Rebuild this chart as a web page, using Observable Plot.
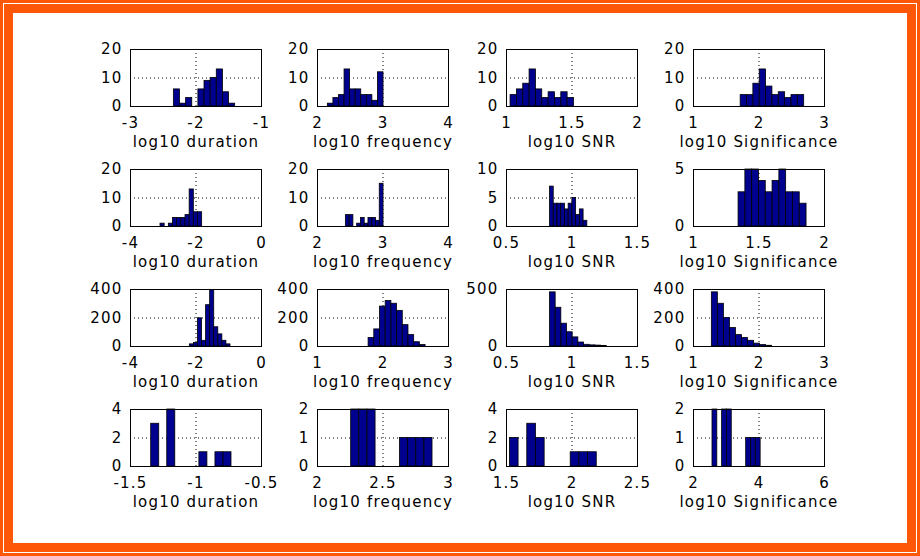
<!DOCTYPE html>
<html><head><meta charset="utf-8">
<script src="https://cdn.jsdelivr.net/npm/d3@7"></script>
<script src="https://cdn.jsdelivr.net/npm/@observablehq/plot@0.6"></script>
<style>
html,body{margin:0;padding:0;background:#fff;}
#frame{position:relative;width:920px;height:556px;background:#ff5708;overflow:hidden;}
#line{position:absolute;left:3px;top:3px;right:3px;bottom:3px;border:1px solid #fff;}
#inner{position:absolute;left:13px;top:13px;right:13px;bottom:13px;background:#fff;}
</style></head><body>
<div id="frame"><div id="line"></div><div id="inner"></div></div>
<script>
// Axis labels per column
const xLabels = ["log10 duration", "log10 frequency", "log10 SNR", "log10 Significance"];

// X tick values per panel (row-major, 4x4)
const xTicks = [
  [-3, -2, -1], [2, 3, 4], [1, 1.5, 2], [1, 2, 3],
  [-4, -2, 0], [2, 3, 4], [0.5, 1, 1.5], [1, 1.5, 2],
  [-4, -2, 0], [1, 2, 3], [0.5, 1, 1.5], [1, 2, 3],
  [-1.5, -1, -0.5], [2, 2.5, 3], [1.5, 2, 2.5], [2, 4, 6]
];

// Y tick values per panel
const yTicks = [
  [0, 10, 20], [0, 10, 20], [0, 10, 20], [0, 10, 20],
  [0, 10, 20], [0, 10, 20], [0, 5, 10], [0, 5],
  [0, 200, 400], [0, 200, 400], [0, 500], [0, 200, 400],
  [0, 2, 4], [0, 1, 2], [0, 2, 4], [0, 1, 2]
];

// Histogram data range (first bin left edge, last bin right edge) per panel
const binRanges = [
  [-2.338, -1.402], [2.158, 3.008], [1.031, 1.515], [1.72, 2.69],
  [-3.084, -1.812], [2.433, 3.008], [0.832, 1.117], [1.344, 1.863],
  [-2.188, -0.947], [1.78, 2.65], [0.832, 1.265], [1.28, 2.2],
  [-1.342, -0.729], [2.257, 2.878], [1.526, 2.189], [2.58, 4.05]
];

// Bin counts (10 bins each) per panel
const counts = [
  [6, 1, 3, 0, 6, 9, 10, 13, 5, 1],
  [1, 3, 4, 13, 6, 6, 4, 4, 2, 12],
  [4, 6, 8, 13, 6, 3, 5, 3, 5, 3],
  [4, 4, 8, 13, 7, 4, 5, 3, 4, 4],
  [1, 0, 1, 3, 3, 3, 4, 13, 5, 5],
  [4, 4, 0, 1, 3, 1, 3, 3, 2, 15],
  [7, 4, 4, 4, 3, 4, 5, 2, 3, 1],
  [3, 5, 5, 4, 3, 4, 5, 3, 3, 2],
  [15, 25, 198, 40, 290, 395, 135, 85, 40, 15],
  [60, 120, 280, 320, 300, 250, 150, 80, 30, 10],
  [475, 340, 200, 125, 80, 35, 15, 10, 8, 5],
  [380, 300, 200, 130, 80, 60, 40, 20, 10, 5],
  [3, 0, 4, 0, 0, 0, 1, 0, 1, 1],
  [2, 2, 2, 0, 0, 0, 1, 1, 1, 1],
  [2, 0, 3, 2, 0, 0, 0, 1, 1, 1],
  [2, 0, 2, 2, 0, 0, 0, 1, 1, 1]
];

const boxLeft = [130, 317, 506, 693];
const boxTop = [49, 169, 289, 409];
const W = 131, H = 57, ML = 46, MR = 28, MT = 12, MB = 50;
const frameEl = document.getElementById("frame");
const gridStyle = {stroke: "#000", strokeOpacity: 1, strokeWidth: 1, strokeDasharray: "1,3"};

for (let i = 0; i < 16; i++) {
  const r = Math.floor(i / 4), c = i % 4;
  const [lo, hi] = binRanges[i];
  const n = counts[i].length;
  const bins = counts[i].map((v, k) => ({x1: lo + (hi - lo) * k / n, x2: lo + (hi - lo) * (k + 1) / n, y: v}));
  const xt = xTicks[i], yt = yTicks[i];
  const chart = Plot.plot({
    width: W + ML + MR, height: H + MT + MB,
    marginLeft: ML, marginRight: MR, marginTop: MT, marginBottom: MB,
    style: {background: "transparent", overflow: "visible", fontFamily: "DejaVu Sans", fontSize: "15px", letterSpacing: "1.2px", color: "#000"},
    x: {domain: [xt[0], xt[xt.length - 1]]},
    y: {domain: [0, yt[yt.length - 1]]},
    marks: [
      Plot.gridX(xt, gridStyle),
      Plot.gridY(yt, gridStyle),
      Plot.rectY(bins, {x1: "x1", x2: "x2", y: "y", fill: "#00008f", stroke: "#000", strokeWidth: 0.8, inset: 0}),
      Plot.frame({stroke: "#000", strokeWidth: 1}),
      Plot.axisX(xt, {tickSize: 0, tickPadding: 11, tickFormat: d => String(d), label: null}),
      Plot.axisY(yt, {tickSize: 0, tickPadding: 8, tickFormat: d => String(d), label: null}),
      Plot.text([xLabels[c]], {frameAnchor: "bottom", dy: 40, text: d => d})
    ]
  });
  chart.style.position = "absolute";
  chart.style.left = (boxLeft[c] - ML) + "px";
  chart.style.top = (boxTop[r] - MT) + "px";
  frameEl.appendChild(chart);
}
</script>
</body></html>
